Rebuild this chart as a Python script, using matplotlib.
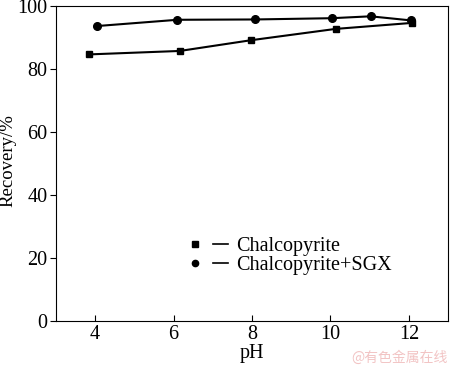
import numpy as np
import matplotlib.pyplot as plt
from matplotlib.lines import Line2D
from matplotlib.legend_handler import HandlerTuple

plt.rcParams['font.family'] = 'Liberation Serif'

# Chalcopyrite (squares)
ph_cp = [3.84, 6.16, 7.97, 10.13, 12.07]
rec_cp = [84.7, 85.8, 89.2, 92.8, 94.7]
# Chalcopyrite + SGX (circles)
ph_sgx = [4.04, 6.10, 8.07, 10.03, 11.02, 12.05]
rec_sgx = [93.7, 95.7, 95.8, 96.2, 96.8, 95.5]

labels = ['Chalcopyrite', 'Chalcopyrite+SGX']
xticks = [4, 6, 8, 10, 12]
yticks = [0, 20, 40, 60, 80, 100]

fig = plt.figure(figsize=(4.5, 3.67), dpi=100)
ax = fig.add_axes([0.124, 0.125, 0.872, 0.858])

ax.plot(ph_cp, rec_cp, 'k-', linewidth=1.5)
ax.plot(ph_cp, rec_cp, 'ks', markersize=5)
ax.plot(ph_sgx, rec_sgx, 'k-', linewidth=1.5)
ax.plot(ph_sgx, rec_sgx, 'ko', markersize=5.5)

ax.set_xlim(3, 13)
ax.set_ylim(0, 100)
ax.set_xticks(xticks)
ax.set_yticks(yticks)
ax.tick_params(axis='x', direction='in', length=4, labelsize=14.5, pad=3)
ax.tick_params(axis='y', direction='out', length=4, labelsize=14.5, pad=2)
ax.set_xlabel('pH', fontsize=14.5, labelpad=0)
ax.set_ylabel('Recovery/%', fontsize=13.5)
ax.yaxis.set_label_coords(-0.10, 0.51)

h1 = (Line2D([], [], color='k', marker='s', linestyle='none', markersize=4),
      Line2D([], [], color='k', linewidth=1.2))
h2 = (Line2D([], [], color='k', marker='o', linestyle='none', markersize=4.5),
      Line2D([], [], color='k', linewidth=1.2))
ax.legend([h1, h2], labels, handler_map={tuple: HandlerTuple(ndivide=None, pad=0.5)},
          loc='upper left', bbox_to_anchor=(0.305, 0.305), frameon=False,
          fontsize=14.5, handlelength=2.0, handletextpad=0.4, labelspacing=0.0,
          borderaxespad=0.2)

fig.text(0.995, 0.005, '@有色金属在线', color='#f2c4c4', fontsize=10,
         ha='right', va='bottom', family=['Noto Sans CJK SC', 'DejaVu Sans'])

fig.savefig('out.png', dpi=100)
